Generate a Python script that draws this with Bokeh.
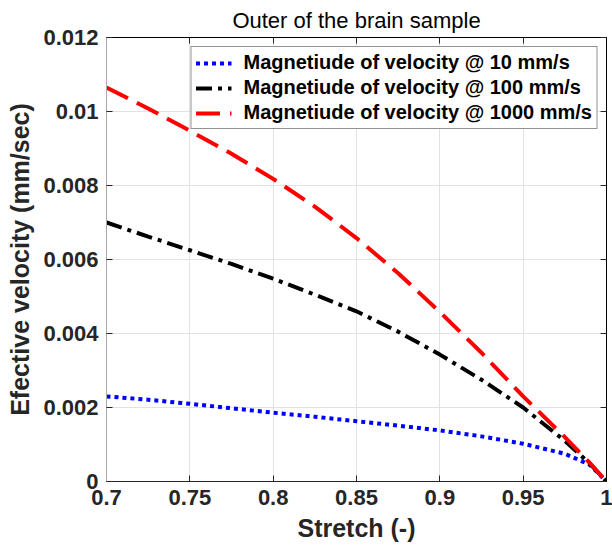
from bokeh.plotting import figure
from bokeh.models import Legend, LegendItem, LinearAxis, FixedTicker, Range1d
from bokeh.embed import file_html
from bokeh.resources import INLINE

# Stretch values (x) shared by all three series
stretch = [0.70, 0.725, 0.75, 0.775, 0.80, 0.825, 0.85, 0.875, 0.90, 0.925, 0.95, 0.975, 0.99, 1.00]

# Effective velocity (mm/sec) for each loading rate
vel_10 = [0.00230, 0.00221, 0.00210, 0.00198, 0.00186, 0.00175, 0.00163, 0.00151,
          0.00138, 0.00122, 0.00102, 0.00075, 0.00045, 0.0]
vel_100 = [0.00700, 0.00662, 0.00625, 0.00588, 0.00548, 0.00505, 0.00460, 0.00405,
           0.00343, 0.00275, 0.00200, 0.00110, 0.00048, 0.0]
vel_1000 = [0.01065, 0.01008, 0.00948, 0.00886, 0.00818, 0.00743, 0.00658, 0.00563,
            0.00458, 0.00348, 0.00230, 0.00120, 0.00050, 0.0]

series_labels = ["Magnetiude of velocity @ 10 mm/s",
                 "Magnetiude of velocity @ 100 mm/s",
                 "Magnetiude of velocity @ 1000 mm/s"]

x_ticks = [0.7, 0.75, 0.8, 0.85, 0.9, 0.95, 1.0]
x_tick_labels = ["0.7", "0.75", "0.8", "0.85", "0.9", "0.95", "1"]
y_ticks = [0.0, 0.002, 0.004, 0.006, 0.008, 0.01, 0.012]
y_tick_labels = ["0", "0.002", "0.004", "0.006", "0.008", "0.01", "0.012"]

FONT = "Liberation Sans"

p = figure(width=612, height=548, frame_width=500, frame_height=444,
           min_border_left=106, min_border_right=6, min_border_top=37, min_border_bottom=67,
           x_range=Range1d(0.7, 1.0), y_range=Range1d(0.0, 0.012),
           output_backend="svg", toolbar_location=None,
           title="Outer of the brain sample")

p.title.text_font = FONT
p.title.text_font_style = "normal"
p.title.text_font_size = "22px"
p.title.align = "center"
p.title.text_color = "#000000"
p.title.offset = 0

p.background_fill_color = "white"
p.border_fill_color = "white"
p.outline_line_color = "#000000"

p.xgrid.ticker = FixedTicker(ticks=x_ticks)
p.ygrid.ticker = FixedTicker(ticks=y_ticks)
p.grid.grid_line_color = "#e2e2e2"
p.grid.grid_line_width = 1


def style_axis(ax, ticks, labels):
    ax.ticker = FixedTicker(ticks=ticks)
    ax.major_label_overrides = {t: l for t, l in zip(ticks, labels)}
    ax.major_tick_in = 6
    ax.major_tick_out = 0
    ax.minor_tick_line_color = None
    ax.major_tick_line_color = "#262626"
    ax.major_label_text_font = FONT
    ax.major_label_text_font_style = "bold"
    ax.major_label_text_color = "#262626"
    ax.major_label_text_font_size = "22px"


xa = p.xaxis[0]
style_axis(xa, x_ticks, x_tick_labels)
xa.axis_line_color = "#262626"
xa.major_label_standoff = 8
xa.axis_label = "Stretch (-)"

ya = p.yaxis[0]
style_axis(ya, y_ticks, y_tick_labels)
ya.axis_line_color = "#a8a8a8"
ya.major_label_standoff = 8
ya.axis_label = "Efective velocity (mm/sec)"

for ax in (xa, ya):
    ax.axis_label_text_font = FONT
    ax.axis_label_text_font_style = "bold"
    ax.axis_label_text_font_size = "25px"
    ax.axis_label_text_color = "#262626"
    ax.axis_label_standoff = 6

# box axes on top and right: inward ticks, no labels
top_ax = LinearAxis(ticker=FixedTicker(ticks=x_ticks), major_label_text_color=None,
                    major_label_text_font_size="1px", major_label_standoff=0,
                    major_tick_in=6, major_tick_out=0, minor_tick_line_color=None,
                    axis_line_color="#000000", major_tick_line_color="#262626")
p.add_layout(top_ax, "above")

right_ax = LinearAxis(ticker=FixedTicker(ticks=y_ticks), major_label_text_color=None,
                      major_label_text_font_size="1px", major_label_standoff=0,
                      major_tick_in=6, major_tick_out=0, minor_tick_line_color=None,
                      axis_line_color="#000000", major_tick_line_color="#262626")
p.add_layout(right_ax, "right")

r10 = p.line(stretch, vel_10, line_color="#0000ff", line_width=4,
             line_dash="4 4", line_cap="butt")
r100 = p.line(stretch, vel_100, line_color="#000000", line_width=4,
              line_dash="16 6 4 6", line_cap="butt")
r1000 = p.line(stretch, vel_1000, line_color="#ff0000", line_width=4,
               line_dash="24 10", line_cap="butt")

legend = Legend(items=[LegendItem(label=series_labels[0], renderers=[r10]),
                       LegendItem(label=series_labels[1], renderers=[r100]),
                       LegendItem(label=series_labels[2], renderers=[r1000])],
                location="top_right")
legend.margin = 9
legend.padding = 4
legend.spacing = 2
legend.label_text_font = FONT
legend.label_text_font_style = "bold"
legend.label_text_font_size = "20px"
legend.label_text_color = "#000000"
legend.label_height = 22
legend.glyph_height = 22
legend.glyph_width = 36
legend.label_standoff = 12
legend.border_line_color = "#262626"
legend.border_line_width = 1
legend.background_fill_color = "white"
legend.background_fill_alpha = 1.0
p.add_layout(legend)

open("out.html", "w").write(file_html(p, INLINE))
